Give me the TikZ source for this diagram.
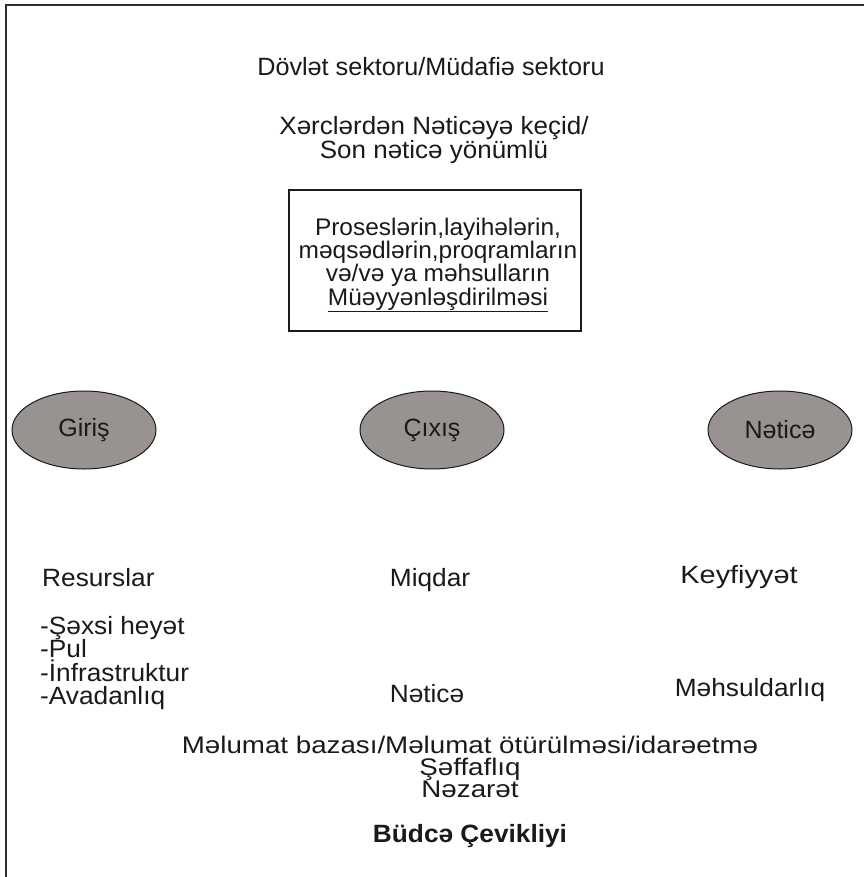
\documentclass[tikz,border=0pt]{standalone}
\usepackage{fontspec}
\setmainfont{Liberation Sans}
\usetikzlibrary{shapes.geometric}
\definecolor{ink}{HTML}{1A1A1A}
\definecolor{frameline}{HTML}{2E2E2E}
\definecolor{ovalfill}{HTML}{989390}
\tikzset{
  txt/.style={text=ink, inner sep=0pt, font=\fontsize{25}{25}\selectfont, xscale=1.05},
  lefttxt/.style={txt, anchor=west},
  stage/.style={ellipse, draw=ink, line width=1pt, fill=ovalfill,
    minimum width=144pt, minimum height=78pt, inner sep=0pt,
    text=ink, font=\fontsize{25}{25}\selectfont},
  goalbox/.style={draw=ink, line width=2pt, minimum width=292pt, minimum height=141pt}
}
\begin{document}
\begin{tikzpicture}[x=1pt,y=-1pt]
  \useasboundingbox (0,0) rectangle (863,877);
  \fill[white] (0,0) rectangle (863,877);
  % open frame along the top and left edges
  \draw[frameline, line width=2pt] (5.5,880) -- (5.5,5.5) -- (866,5.5);

  % headings
  \node[txt, xscale=0.96] (sector) at (431,67) {Dövlət sektoru/Müdafiə sektoru};
  \node[txt, align=center, font=\fontsize{25}{24}\selectfont, xscale=0.99]
    (shift) at (434,140) {Xərclərdən Nəticəyə keçid/\\Son nəticə yönümlü};

  % definition box
  \node[goalbox] (box) at (434.5,260.5) {};
  \node[txt, align=center, font=\fontsize{24}{18.5}\selectfont, xscale=0.97]
    (goal) at (438,265) {Proseslərin,layihələrin,\\məqsədlərin,proqramların\\və/və ya məhsulların\\\underline{Müəyyənləşdirilməsi}};

  % stages
  \node[stage] (in)  at (84,430)  {Giriş};
  \node[stage] (out) at (432,430) {Çıxış};
  \node[stage] (res) at (780,430) {Nəticə};

  % column headings
  \node[lefttxt] (resurs) at (42,578) {Resurslar};
  \node[txt] (miqdar) at (430,580) {Miqdar};
  \node[txt, xscale=1.1] (keyf) at (739,577) {Keyfiyyət};

  % inputs list
  \node[lefttxt, align=left, font=\fontsize{25}{23.5}\selectfont]
    (inputs) at (40,663) {-Şəxsi heyət\\-Pul\\-İnfrastruktur\\-Avadanlıq};

  \node[txt] (netice) at (427,694) {Nəticə};
  \node[txt] (mehsul) at (750,690) {Məhsuldarlıq};

  % bottom block
  \node[txt, align=center, font=\fontsize{24}{22}\selectfont, xscale=1.1]
    (data) at (470,767) {Məlumat bazası/Məlumat ötürülməsi/idarəetmə\\Şəffaflıq\\Nəzarət};
  \node[txt, font=\fontsize{25}{25}\selectfont\bfseries] (budce) at (470,836) {Büdcə Çevikliyi};
\end{tikzpicture}
\end{document}
